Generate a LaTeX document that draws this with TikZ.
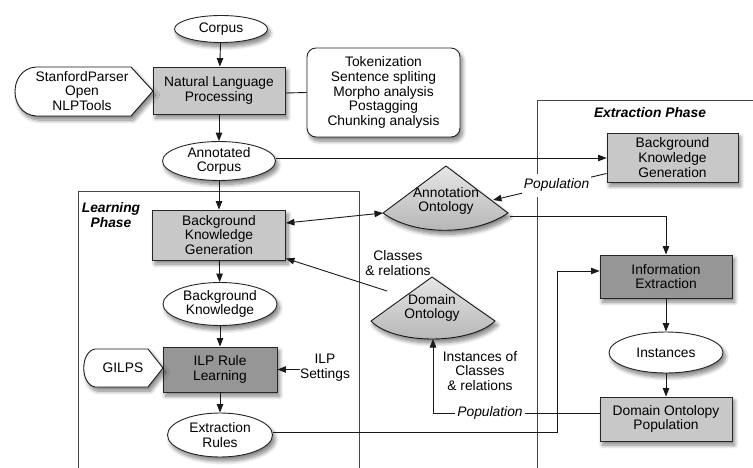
\documentclass[tikz,border=0pt]{standalone}
\usepackage{fontspec}
\setmainfont{Liberation Sans}
\usetikzlibrary{shapes.geometric,arrows.meta,shadows.blur,calc}
\definecolor{boxlight}{RGB}{200,200,200}
\definecolor{boxdark}{RGB}{150,150,150}
\definecolor{ontotop}{RGB}{230,230,230}
\definecolor{ontobot}{RGB}{178,178,178}
\definecolor{framecol}{RGB}{70,70,70}
\newcommand{\fs}{\fontsize{13.8}{14.7}\selectfont}
\begin{document}
\begin{tikzpicture}[x=1pt,y=-1pt,
  txt/.style={font=\fs, align=center, inner sep=0pt},
  shd/.style={blur shadow={shadow xshift=2.5pt, shadow yshift=-4pt, shadow blur radius=4pt, shadow blur steps=8, shadow opacity=50}},
  lbox/.style={txt, draw=black!85, line width=0.9pt, fill=boxlight, shd},
  dbox/.style={lbox, fill=boxdark},
  oval/.style={txt, ellipse, draw=black!85, line width=0.9pt, fill=white, shd},
  conn/.style={line width=0.9pt, draw=black!90},
  arr/.style={conn, -{Triangle[length=8.5pt,width=6.5pt]}},
  darr/.style={conn, {Triangle[length=8.5pt,width=6.5pt]}-{Triangle[length=8.5pt,width=6.5pt]}},
  phase/.style={draw=framecol, line width=0.9pt},
  plab/.style={font=\fs\bfseries\itshape, align=center, inner sep=0pt},
  poplab/.style={font=\fs\itshape, fill=white, inner xsep=2pt, inner ysep=5pt},
]
\useasboundingbox (0,0) rectangle (753,468);

% phase frames
\draw[phase] (78,480) -- (78,191) -- (359,191) -- (359,480);
\draw[phase] (537,480) -- (537,100) -- (770,100);

% top part
\node[oval, minimum width=93pt, minimum height=27pt] (corpus) at (221,29) {Corpus};
\node[lbox, minimum width=132pt, minimum height=47pt] (nlp) at (219,90.5) {Natural Language\\Processing};
\draw[conn, fill=white, shd] (153,91) -- (131,67) -- (36,67) .. controls (8,69) and (8,114) .. (36,116) -- (131,116) -- cycle;
\node[txt] (tools) at (82,91) {StanfordParser\\Open\\NLPTools};
\node[txt, draw=black!85, line width=0.9pt, rounded corners=9pt, fill=white, minimum width=153pt, minimum height=89pt, shd] (steps) at (383.5,92.5) {Tokenization\\Sentence spliting\\Morpho analysis\\Postagging\\Chunking analysis};
\node[oval, minimum width=113pt, minimum height=38pt] (annot) at (219,161) {Annotated\\Corpus};

% learning phase
\node[plab] (lphase) at (111,215) {Learning\\Phase};
\node[lbox, minimum width=133pt, minimum height=50pt] (lbkg) at (219,235) {Background\\Knowledge\\Generation};
\node[oval, minimum width=114pt, minimum height=43pt] (bk) at (220,304) {Background\\Knowledge};
\node[dbox, minimum width=114pt, minimum height=45pt] (ilp) at (220,369.5) {ILP Rule\\Learning};
\draw[conn, fill=white, shd] (163,368) -- (148,349) -- (95,349) .. controls (80,352) and (80,384) .. (95,387) -- (148,387) -- cycle;
\node[txt] (gilps) at (123,368) {GILPS};
\node[txt] (ilpset) at (325,368) {ILP\\Settings};
\node[oval, minimum width=105pt, minimum height=44pt] (rules) at (220,435) {Extraction\\Rules};

% extraction phase
\node[plab] (ephase) at (650,113) {Extraction Phase};
\node[lbox, minimum width=131pt, minimum height=49pt] (ebkg) at (672.5,157.5) {Background\\Knowledge\\Generation};
\node[dbox, minimum width=132pt, minimum height=43pt] (ie) at (666,276.5) {Information\\Extraction};
\node[oval, minimum width=114pt, minimum height=41pt] (inst) at (666,352.5) {Instances};
\node[lbox, minimum width=132pt, minimum height=44pt] (dop) at (666,419) {Domain Ontolopy\\Population};

% ontologies
\coordinate (aoA) at (446,166);
\coordinate (aoL) at (383,213);
\coordinate (aoR) at (508,213);
\draw[conn, top color=ontotop, bottom color=ontobot, shd] (aoL) -- (aoA) -- (aoR) .. controls (475,236) and (414,236) .. (aoL) -- cycle;
\node[txt] (annont) at (446,201) {Annotation\\Ontology};
\coordinate (doA) at (432,277);
\coordinate (doL) at (371,321);
\coordinate (doR) at (495,321);
\draw[conn, top color=ontotop, bottom color=ontobot, shd] (doL) -- (doA) -- (doR) .. controls (470,345) and (394,345) .. (doL) -- cycle;
\node[txt] (domont) at (432,308) {Domain\\Ontology};
\node[txt] (clsrel) at (398,263) {Classes\\\& relations};
\node[txt] (instlab) at (480,371) {Instances of\\Classes\\\& relations};

% connectors
\draw[arr] (corpus) -- (nlp);
\draw[arr] (nlp) -- (annot);
\draw[conn] ([yshift=-2.5pt]nlp.east) -- (steps.west);
\draw[arr] (annot) -- (lbkg);
\coordinate (ac) at ([yshift=3pt]annot.east);
\draw[arr] (ac) -- (ac -| ebkg.west);
\draw[darr] ([yshift=12pt]lbkg.east) -- (aoL);
\coordinate (dstart) at (387,291);
\draw[arr] (dstart) -- ([yshift=2pt]lbkg.south east);
\draw[arr] (lbkg) -- (bk);
\draw[arr] (bk) -- (ilp);
\draw[arr] (ilp) -- (rules);
\draw[arr] (ilp.east -| ilpset.west) -- (ilp.east);
\coordinate (rc) at ([yshift=3pt]rules.east);
\coordinate (turn) at (557,271);
\draw[arr] (rc) -| (turn) -- (turn -| ie.west);
\coordinate (aoout) at (510,216);
\draw[arr] (aoout) -| (ie.north);
\coordinate (aoin) at (493,200);
\draw[arr] ([yshift=-16pt]ebkg.west) -- (aoin) node[poplab, pos=0.44] (pop1) {Population};
\draw[arr] (ie) -- (inst);
\draw[arr] (inst) -- (dop);
\coordinate (pturn) at (433,413);
\coordinate (dobot) at (433,339);
\draw[arr] ([yshift=6pt]dop.west) -- (pturn) -- (dobot);
\node[poplab] (pop2) at (490,413) {Population};
\end{tikzpicture}
\end{document}
